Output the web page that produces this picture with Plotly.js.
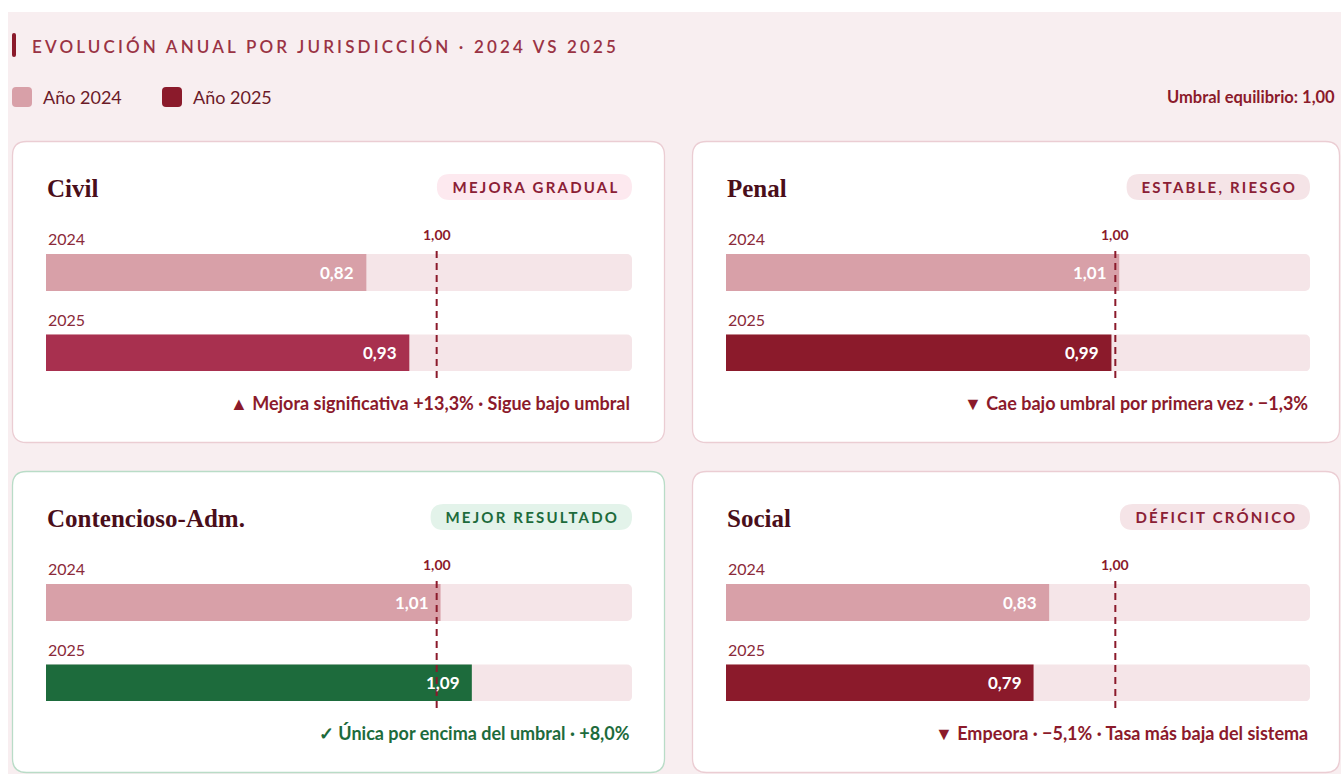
<!DOCTYPE html>
<html><head><meta charset="utf-8">
<script src="https://cdn.plot.ly/plotly-3.0.1.min.js"></script>
<style>html,body{margin:0;padding:0;background:#ffffff;overflow:hidden}#chart{width:1341px;height:774px}</style>
</head><body><div id="chart"></div>
<script>
// ---------- DATA ----------
const jurisdicciones = ["Civil", "Penal", "Contencioso-Adm.", "Social"];
const anios = ["2024", "2025"];
const valores2024 = [0.82, 1.01, 1.01, 0.83];
const valores2025 = [0.93, 0.99, 1.09, 0.79];
const estados = ["MEJORA GRADUAL", "ESTABLE, RIESGO", "MEJOR RESULTADO", "DÉFICIT CRÓNICO"];
const notas = [
  "▲ Mejora significativa +13,3% · Sigue bajo umbral",
  "▼ Cae bajo umbral por primera vez · −1,3%",
  "✓ Única por encima del umbral · +8,0%",
  "▼ Empeora · −5,1% · Tasa más baja del sistema"
];
const umbral = 1.00;
const escalaMax = 1.5;
const tituloGrafico = "EVOLUCIÓN ANUAL POR JURISDICCIÓN · 2024 VS 2025";
const leyenda = ["Año 2024", "Año 2025"];
const umbralTexto = "Umbral equilibrio: 1,00";

// ---------- STYLE ----------
const W = 1341, H = 774;
const PX = x => x / W, PY = y => 1 - y / H;
const fmt = v => v.toFixed(2).replace(".", ",");
const C = {
  page: "#f8eef0", card: "#ffffff", border: "#ebcdd3", borderGreen: "#b9dcc7",
  track: "#f5e5e8", b24: "#d8a0a8", red: "#8b1a2b", civil: "#a8304f", green: "#1d6b3c",
  text: "#8b2a3a", title: "#4a0e1a"
};
const color2025 = [C.civil, C.red, C.green, C.red];
const verde = [false, false, true, false];
const badgeBg = ["#fde9ef", "#f5e4e7", "#e3f3ea", "#f5e4e7"];
const cardX = [12, 692, 12, 692], cardY = [141, 141, 471, 471], cardW = [653, 648, 653, 648], cardH = 302;
const trackR = [620, 618, 620, 618];
const SANS = "Lato, 'Noto Sans', sans-serif";
const SERIF = "'Liberation Serif', 'DejaVu Serif', serif";
const catOrder = ["2025", "2024"];

function rr(x0, y0, x1, y1, r) {
  const p = (x, y) => PX(x) + "," + PY(y);
  return "M" + p(x0 + r, y0) + " L" + p(x1 - r, y0) + " Q" + p(x1, y0) + " " + p(x1, y0 + r) +
    " L" + p(x1, y1 - r) + " Q" + p(x1, y1) + " " + p(x1 - r, y1) +
    " L" + p(x0 + r, y1) + " Q" + p(x0, y1) + " " + p(x0, y1 - r) +
    " L" + p(x0, y0 + r) + " Q" + p(x0, y0) + " " + p(x0 + r, y0) + " Z";
}
const cv = document.createElement("canvas").getContext("2d");
function measure(txt, font, ls) { cv.font = font; return cv.measureText(txt).width + ls * txt.length; }

const shapes = [], annotations = [], traces = [];
const layout = {
  width: W, height: H, margin: {l: 0, r: 0, t: 0, b: 0},
  paper_bgcolor: "#ffffff", plot_bgcolor: "rgba(0,0,0,0)",
  showlegend: false, barmode: "overlay", font: {family: SANS},
  shapes: shapes, annotations: annotations, hovermode: false
};

// page background
shapes.push({type: "rect", xref: "paper", yref: "paper", x0: PX(8), x1: 1, y0: 0, y1: PY(12), fillcolor: C.page, line: {width: 0}, layer: "below"});
// header
shapes.push({type: "path", xref: "paper", yref: "paper", path: rr(12, 33, 16, 57, 2), fillcolor: C.red, line: {width: 0}, layer: "below"});
const tFont = "600 17px Lato";
const tNat = measure(tituloGrafico, tFont, 0);
const tLs = Math.max(0, (586 - tNat) / (tituloGrafico.length - 1));
const tW = tNat + tLs * tituloGrafico.length;
annotations.push({xref: "paper", yref: "paper", x: PX(31 + tW / 2), y: PY(46), xanchor: "center", yanchor: "middle", showarrow: false,
  text: tituloGrafico, font: {size: 17, color: "#9a3344", weight: 600}, name: "ls-title"});
// legend
const legCol = [C.b24, C.red], legX = [12, 162];
leyenda.forEach((t, i) => {
  shapes.push({type: "path", xref: "paper", yref: "paper", path: rr(legX[i], 87, legX[i] + 20, 107, 4), fillcolor: legCol[i], line: {width: 0}, layer: "below"});
  annotations.push({xref: "paper", yref: "paper", x: PX(legX[i] + 29), y: PY(97), xanchor: "left", yanchor: "middle", showarrow: false,
    text: t, font: {size: 18, color: "#6b1a28"}});
});
annotations.push({xref: "paper", yref: "paper", x: PX(1337), y: PY(97), xanchor: "right", yanchor: "middle", showarrow: false,
  text: umbralTexto, font: {size: 16.5, color: C.red, weight: 700}});

const bSize = 15, bLs = 2.2, bFont = "bold 15px Lato";
jurisdicciones.forEach((nombre, i) => {
  const k = i + 1, cx = cardX[i], cy = cardY[i], cw = cardW[i];
  const tx0 = cx + 34, tx1 = cx + trackR[i];
  const accent = verde[i] ? C.green : C.red;
  // card
  shapes.push({type: "path", xref: "paper", yref: "paper", path: rr(cx + 0.5, cy + 0.5, cx + cw - 0.5, cy + cardH - 0.5, 14),
    fillcolor: C.card, line: {color: verde[i] ? C.borderGreen : C.border, width: 1.3}, layer: "below"});
  // title
  annotations.push({xref: "paper", yref: "paper", x: PX(tx0 - 1), y: PY(cy + 47), xanchor: "left", yanchor: "middle", showarrow: false,
    text: nombre, font: {family: SERIF, size: 25, color: C.title, weight: 700}});
  // badge
  const bw = measure(estados[i], bFont, bLs) - bLs + 30;
  shapes.push({type: "path", xref: "paper", yref: "paper", path: rr(tx1 - bw, cy + 33, tx1, cy + 59, 13),
    fillcolor: badgeBg[i], line: {width: 0}, layer: "below"});
  annotations.push({xref: "paper", yref: "paper", x: PX(tx1 - bw / 2 + bLs / 2), y: PY(cy + 46), xanchor: "center", yanchor: "middle", showarrow: false,
    text: estados[i], font: {size: bSize, color: verde[i] ? C.green : "#8b2035", weight: 700}, name: "ls-badge"});
  // year labels
  [97, 178].forEach((dy, j) => annotations.push({xref: "paper", yref: "paper", x: PX(tx0), y: PY(cy + dy), xanchor: "left", yanchor: "middle",
    showarrow: false, text: anios[j], font: {size: 16, color: C.text}}));
  // axes
  layout["xaxis" + k] = {domain: [PX(tx0), PX(tx1)], range: [0, escalaMax], visible: false, fixedrange: true, anchor: "y" + k};
  layout["yaxis" + k] = {domain: [PY(cy + 230), PY(cy + 113)], type: "category", categoryorder: "array", categoryarray: catOrder,
    range: [-0.224, 1.23], visible: false, fixedrange: true, anchor: "x" + k};
  // tracks
  traces.push({type: "bar", orientation: "h", xaxis: "x" + k, yaxis: "y" + k, y: anios, x: anios.map(() => escalaMax), width: 0.46,
    marker: {color: C.track, cornerradius: 5}, hoverinfo: "skip"});
  // values
  const vals = [valores2024[i], valores2025[i]];
  traces.push({type: "bar", orientation: "h", xaxis: "x" + k, yaxis: "y" + k, y: anios, x: vals, width: 0.46,
    marker: {color: [C.b24, color2025[i]], cornerradius: 5}, hoverinfo: "skip"});
  vals.forEach((v, j) => annotations.push({xref: "x" + k, yref: "y" + k, x: v, y: catOrder.indexOf(anios[j]), xanchor: "right", yanchor: "middle", xshift: -10,
    showarrow: false, text: fmt(v), font: {size: 17, color: "#ffffff", weight: 700}}));
  // threshold
  shapes.push({type: "line", xref: "x" + k, yref: "paper", x0: umbral, x1: umbral, y0: PY(cy + 237), y1: PY(cy + 106),
    line: {color: C.red, width: 2, dash: "7px,5px"}, layer: "above"});
  annotations.push({xref: "x" + k, yref: "paper", x: umbral, y: PY(cy + 93), xanchor: "center", yanchor: "middle", showarrow: false,
    text: fmt(umbral), font: {size: 14, color: C.red, weight: 700}});
  // note
  annotations.push({xref: "paper", yref: "paper", x: PX(tx1), y: PY(cy + 262), xanchor: "right", yanchor: "middle", showarrow: false,
    text: notas[i], font: {size: 18, color: accent, weight: 700}});
});

Plotly.newPlot("chart", traces, layout, {staticPlot: true, displayModeBar: false}).then(gd => {
  gd.querySelectorAll(".annotation").forEach(a => {
    const idx = +a.getAttribute("data-index");
    const nm = layout.annotations[idx] && layout.annotations[idx].name;
    const t = a.querySelector("text.annotation-text");
    if (!t) return;
    if (nm === "ls-title") t.style.letterSpacing = tLs + "px";
    if (nm === "ls-badge") t.style.letterSpacing = bLs + "px";
  });
});
</script>
</body></html>
